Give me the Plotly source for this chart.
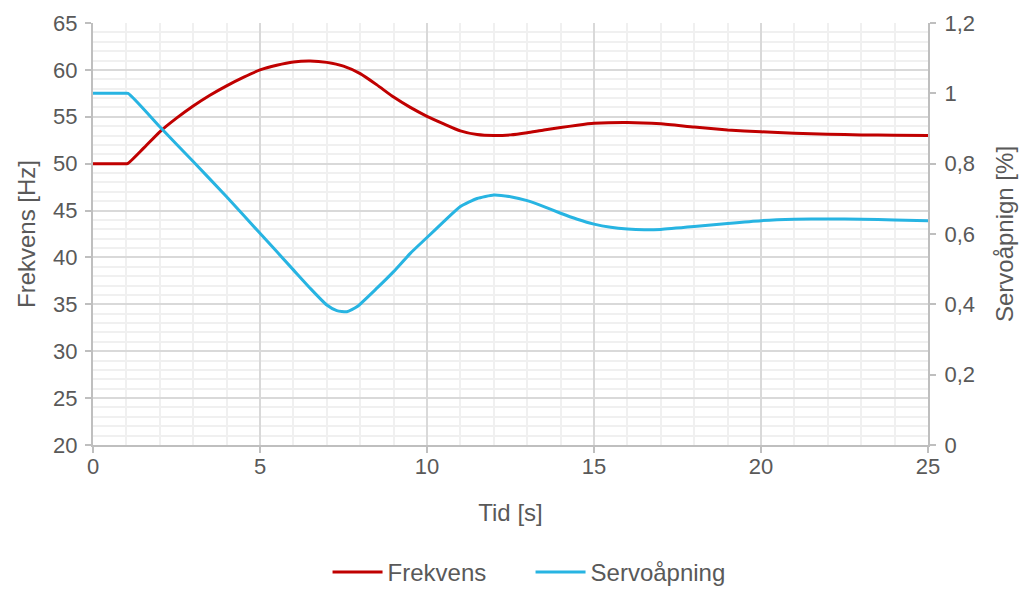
import plotly.graph_objects as go

# Frekvens [Hz]
t_frek = [0, 0.9, 1.03, 1.5, 2, 2.5, 3, 3.5, 4, 4.5, 5, 5.5, 6, 6.5, 7, 7.5, 8, 8.5, 9, 9.5, 10,
          10.5, 11, 11.5, 12, 12.5, 13, 13.5, 14, 14.5, 15, 16, 17, 18, 19, 20, 21, 22, 23, 24, 25]
frekvens = [50, 50, 50, 51.6, 53.4, 54.85, 56.15, 57.3, 58.3, 59.2, 60.0, 60.5, 60.85, 60.95, 60.8,
            60.4, 59.6, 58.4, 57.1, 56.0, 55.05, 54.25, 53.5, 53.1, 53.0, 53.07, 53.3, 53.6, 53.85,
            54.1, 54.3, 54.4, 54.25, 53.9, 53.6, 53.4, 53.25, 53.15, 53.07, 53.03, 53.0]

# Servoåpning [%]
t_servo = [0, 0.9, 1.05, 2, 3, 4, 5, 6, 6.5, 7, 7.3, 7.6, 7.9, 8.5, 9, 9.5, 10, 10.5, 11, 11.5,
           12, 12.5, 13, 13.5, 14, 14.5, 15, 15.5, 16, 16.5, 17, 18, 19, 20, 21, 22, 23, 24, 25]
servo = [1.0, 1.0, 1.0, 0.905, 0.806, 0.706, 0.602, 0.498, 0.446, 0.398, 0.382, 0.379, 0.393,
         0.446, 0.493, 0.545, 0.59, 0.635, 0.678, 0.701, 0.711, 0.706, 0.695, 0.678, 0.659,
         0.642, 0.628, 0.619, 0.614, 0.612, 0.613, 0.621, 0.630, 0.638, 0.642, 0.643, 0.642,
         0.640, 0.638]

FONT = "Liberation Sans, Arial, sans-serif"
GRAY = "#595959"
AX = "#BFBFBF"

fig = go.Figure()
fig.add_trace(go.Scatter(x=t_frek, y=frekvens, name="Frekvens", mode="lines",
                         line=dict(color="#C00000", width=3, shape="spline", smoothing=0.5),
                         yaxis="y"))
fig.add_trace(go.Scatter(x=t_servo, y=servo, name="Servoåpning", mode="lines",
                         line=dict(color="#27B4E2", width=3, shape="spline", smoothing=0.5),
                         yaxis="y2"))

fig.update_layout(
    width=1020, height=590,
    margin=dict(l=93, r=92, t=23, b=145, autoexpand=False),
    paper_bgcolor="white", plot_bgcolor="white",
    font=dict(family=FONT, color=GRAY, size=22),
    xaxis=dict(range=[0, 25], dtick=5, tick0=0, automargin=False,
               showgrid=True, gridcolor="#D9D9D9", gridwidth=2,
               minor=dict(dtick=1, showgrid=True, gridcolor="#F0F0F0", gridwidth=2),
               showline=True, linecolor=AX, linewidth=2,
               ticks="outside", ticklen=6, tickcolor=AX, tickwidth=2,
               ticklabelstandoff=-5,
               zeroline=False, tickfont=dict(size=22),
               title=dict(text="Tid [s]", font=dict(size=24), standoff=26)),
    yaxis=dict(range=[20, 65], dtick=5, tick0=20, automargin=False,
               showgrid=True, gridcolor="#D9D9D9", gridwidth=2,
               minor=dict(dtick=1, showgrid=True, gridcolor="#F0F0F0", gridwidth=2),
               showline=True, linecolor=AX, linewidth=2,
               ticks="outside", ticklen=6, tickcolor=AX, tickwidth=2,
               ticklabelstandoff=3,
               zeroline=False, tickfont=dict(size=22),
               title=dict(text="Frekvens [Hz]", font=dict(size=24), standoff=11)),
    yaxis2=dict(range=[0, 1.2], dtick=0.2, tick0=0, overlaying="y", side="right",
                automargin=False, showgrid=False, zeroline=False,
                showline=True, linecolor=AX, linewidth=2,
                ticks="outside", ticklen=6, tickcolor=AX, tickwidth=2,
                ticklabelstandoff=4,
                tickformat=".1~f", tickfont=dict(size=22),
                title=dict(text="Servoåpnign [%]", font=dict(size=24), standoff=22)),
    separators=", ",
    showlegend=True,
    legend=dict(orientation="h", x=0.524, xanchor="center", y=-0.302, yanchor="middle",
                entrywidth=138, entrywidthmode="pixels", itemwidth=50,
                font=dict(size=24, color=GRAY)),
)

fig.write_html("out.html", config={"displayModeBar": False},
               post_script="document.body.style.margin='0';")
